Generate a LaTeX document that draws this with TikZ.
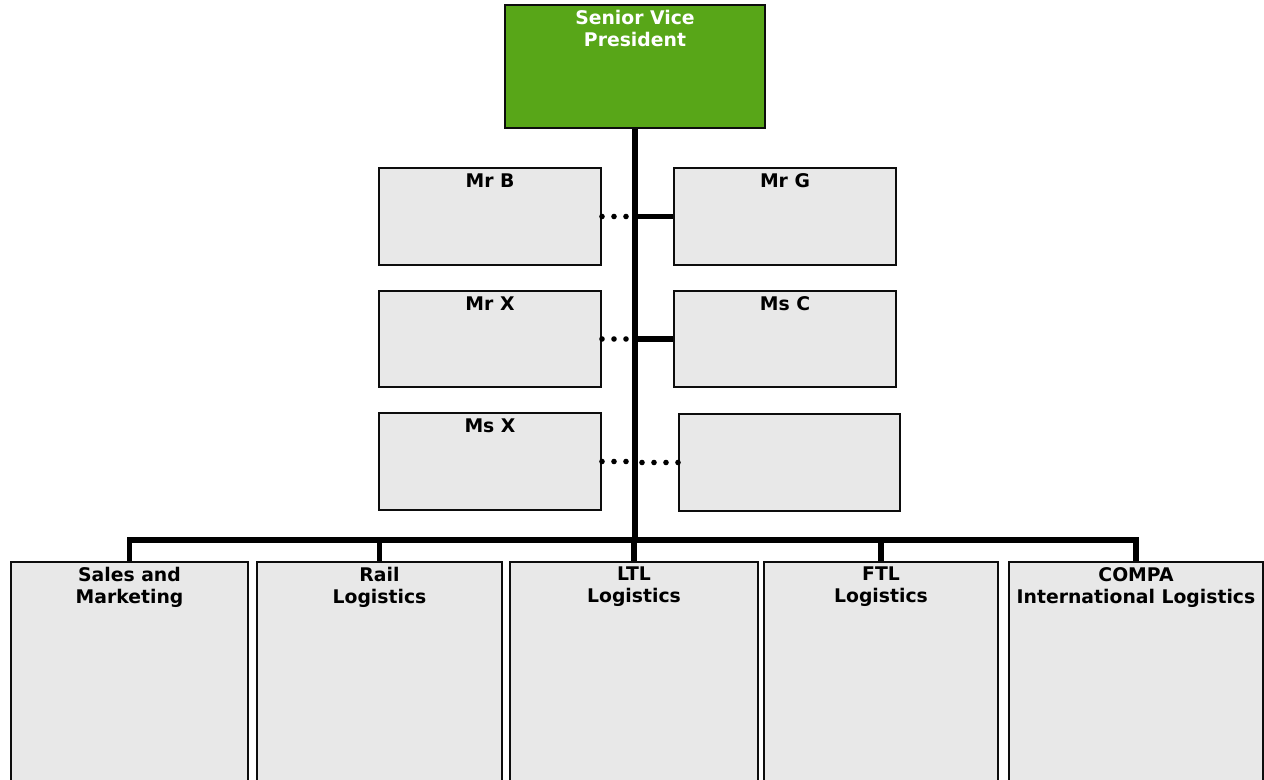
\documentclass[tikz,border=0pt]{standalone}
\usepackage{fontspec}
\setmainfont{DejaVu Sans}
\usetikzlibrary{positioning}
\definecolor{svpgreen}{RGB}{88,166,24}
\definecolor{boxgray}{RGB}{232,232,232}
\begin{document}
\begin{tikzpicture}[x=0.75pt, y=-0.75pt,
    box/.style={draw=black!95, line width=1.5pt, fill=boxgray, anchor=north west, inner sep=0pt},
    title/.style={font=\bfseries\fontsize{14.1}{16.5}\selectfont, align=center, inner sep=0pt},
    solidline/.style={line width=4.4pt},
    dots/.style={line width=4.2pt, line cap=round, dash pattern=on 0pt off 9pt}]
    \useasboundingbox (0,0) rectangle (1264,780);

    % Senior Vice President
    \node[box, fill=svpgreen, minimum width=195pt, minimum height=92.25pt] (svp) at (504,4) {};
    \node[title, text=white, below=4.5pt of svp.north] (svptitle) {Senior Vice\\President};

    % Staff boxes
    \node[box, minimum width=166.5pt, minimum height=72.75pt] (mrb) at (378,167) {};
    \node[box, minimum width=166.5pt, minimum height=72.75pt] (mrg) at (673,167) {};
    \node[box, minimum width=166.5pt, minimum height=72pt] (mrx) at (378,290) {};
    \node[box, minimum width=166.5pt, minimum height=72pt] (msc) at (673,290) {};
    \node[box, minimum width=166.5pt, minimum height=72.75pt] (msx) at (378,412) {};
    \node[box, minimum width=165.75pt, minimum height=72.75pt] (blank) at (678,413) {};
    \node[title, below=5pt of mrb.north] (mrbtitle) {Mr B};
    \node[title, below=5pt of mrg.north] (mrgtitle) {Mr G};
    \node[title, below=5pt of mrx.north] (mrxtitle) {Mr X};
    \node[title, below=5pt of msc.north] (msctitle) {Ms C};
    \node[title, below=5pt of msx.north] (msxtitle) {Ms X};

    % Divisions
    \foreach \name/\boxl/\boxw/\txt in {sales/10/177.75/{Sales and\\Marketing},
        rail/256/183.75/{Rail\\Logistics},
        ltl/509/186/{LTL\\Logistics},
        ftl/763/175.5/{FTL\\Logistics},
        compa/1008/190.5/{COMPA\\International Logistics}} {
        \node[box, minimum width=\boxw pt, minimum height=168pt] (\name) at (\boxl,561) {};
        \node[title, below=4.5pt of \name.north] (\name title) {\txt};
    }

    % Trunk and bus
    \coordinate (bus) at (0,540);
    \draw[solidline] (svp.south) -- (svp.south |- bus);
    \draw[solidline] (sales.north) -- (sales.north |- bus) -- (compa.north |- bus) -- (compa.north);
    \foreach \name in {rail,ltl,ftl} {
        \draw[solidline] (\name.north |- bus) -- (\name.north);
    }

    % Staff connectors
    \draw[solidline] (svp.south |- mrg.west) -- (mrg.west);
    \draw[solidline] (svp.south |- msc.west) -- (msc.west);
    \draw[dots] (mrb.east) -- (mrb.east -| svp.south);
    \draw[dots] (mrx.east) -- (mrx.east -| svp.south);
    \draw[dots] (msx.east) -- (msx.east -| svp.south);
    \draw[dots] (blank.west) -- (blank.west -| svp.south);
\end{tikzpicture}
\end{document}
